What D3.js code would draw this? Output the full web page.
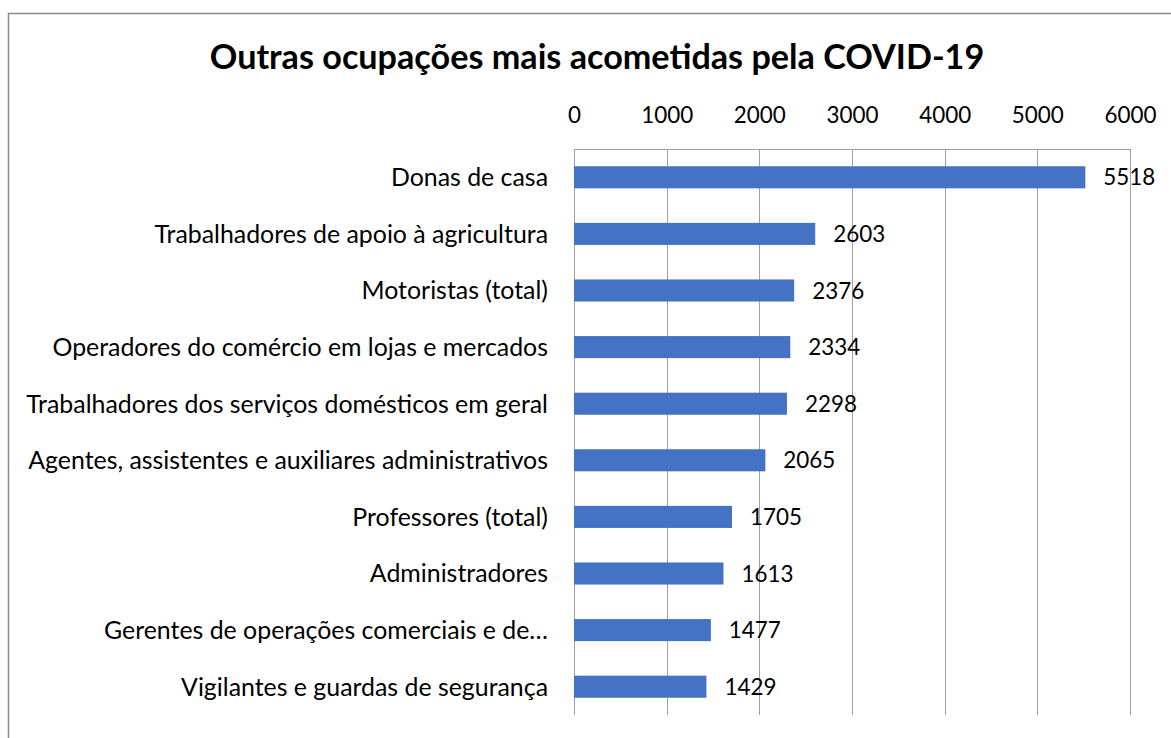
<!DOCTYPE html>
<html>
<head>
<meta charset="utf-8">
<script src="https://cdn.jsdelivr.net/npm/d3@7"></script>
<style>
    body { margin: 0; background: #fff; }
    svg { display: block; font-family: Lato, 'Open Sans', sans-serif; }
</style>
</head>
<body>
<div id="chart"></div>
<script>
// data
const titre = 'Outras ocupações mais acometidas pela COVID-19';
const categories = [
    'Donas de casa',
    'Trabalhadores de apoio à agricultura',
    'Motoristas (total)',
    'Operadores do comércio em lojas e mercados',
    'Trabalhadores dos serviços domésticos em geral',
    'Agentes, assistentes e auxiliares administrativos',
    'Professores (total)',
    'Administradores',
    'Gerentes de operações comerciais e de…',
    'Vigilantes e guardas de segurança'
];
const valeurs = [5518, 2603, 2376, 2334, 2298, 2065, 1705, 1613, 1477, 1429];
const ticks = [0, 1000, 2000, 3000, 4000, 5000, 6000];

const width = 1171, height = 738;
const plot = {left: 574, right: 1130, top: 149, bottom: 715};

const svg = d3.select('#chart').append('svg')
    .attr('width', width)
    .attr('height', height);

// font size so that a text reaches the width seen in the picture
function fitSize(txt, target, weight) {
    const t = svg.append('text')
        .attr('font-size', 100)
        .attr('font-weight', weight || 'normal')
        .text(txt);
    const w = t.node().getComputedTextLength();
    t.remove();
    return 100 * target / w;
}
const fsCat = fitSize(categories[5], 520);
const fsNum = fitSize('2376', 52);
const fsTitre = fitSize(titre, 775, 'bold');

// échelles
const scX = d3.scaleLinear().domain([0, 6000]).range([plot.left, plot.right]);
const scY = d3.scaleBand(categories, [plot.top, plot.bottom])
    .paddingInner(0.61)
    .paddingOuter(0.305);

// chart border (runs past the picture on right and bottom)
svg.append('rect')
    .attr('x', 8.5).attr('y', 13.5)
    .attr('width', 1300).attr('height', 900)
    .attr('fill', 'none')
    .attr('stroke', '#8a8a8a')
    .attr('stroke-width', 1.5);

svg.append('text')
    .attr('x', 597)
    .attr('y', 69)
    .attr('text-anchor', 'middle')
    .attr('font-weight', 'bold')
    .attr('font-size', fsTitre)
    .attr('fill', '#000')
    .text(titre);

// top axis + vertical gridlines
const axe = svg.append('g')
    .attr('transform', 'translate(0,' + plot.top + ')')
    .call(d3.axisTop(scX)
        .tickValues(ticks)
        .tickFormat(d3.format('d'))
        .tickSizeInner(-(plot.bottom - plot.top))
        .tickSizeOuter(0)
        .tickPadding(26));
axe.select('.domain').attr('stroke', '#a0a0a0');
axe.selectAll('.tick line')
    .attr('stroke', '#a0a0a0')
    .attr('shape-rendering', 'crispEdges');
axe.selectAll('.tick text')
    .attr('font-family', null)
    .attr('font-size', fsNum)
    .attr('fill', '#000');
axe.attr('font-family', null).attr('font-size', null);

// bars
const g = svg.selectAll('g.bar')
    .data(categories)
    .enter()
    .append('g')
    .attr('class', 'bar');
g.append('rect')
    .attr('x', scX(0))
    .attr('y', d => scY(d))
    .attr('height', scY.bandwidth())
    .attr('width', (d, i) => scX(valeurs[i]) - scX(0))
    .attr('fill', '#4472C4');
g.append('text')
    .attr('x', (d, i) => scX(valeurs[i]) + 18)
    .attr('y', d => scY(d) + scY.bandwidth() / 2)
    .attr('dy', '0.36em')
    .attr('font-size', fsNum)
    .attr('fill', '#000')
    .text((d, i) => valeurs[i]);
g.append('text')
    .attr('x', 548)
    .attr('y', d => scY(d) + scY.bandwidth() / 2)
    .attr('dy', '0.36em')
    .attr('text-anchor', 'end')
    .attr('font-size', fsCat)
    .attr('fill', '#000')
    .text(d => d);
</script>
</body>
</html>
